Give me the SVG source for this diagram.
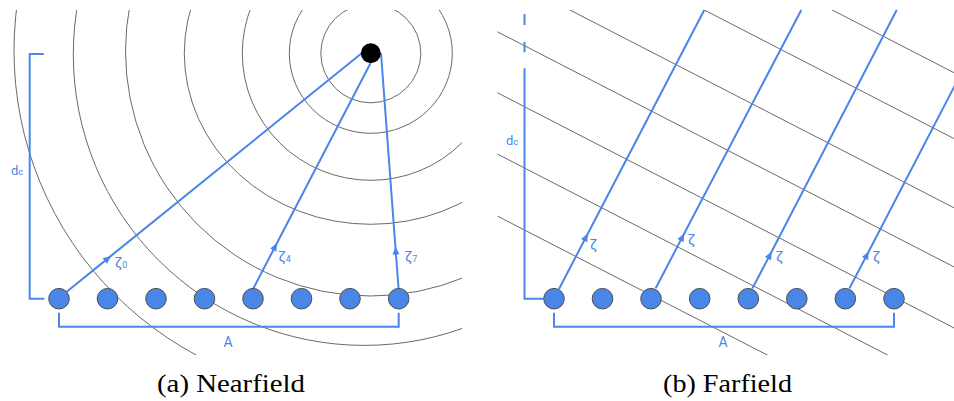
<svg xmlns="http://www.w3.org/2000/svg" width="954" height="401" viewBox="0 0 954 401">
<defs>
<style>
.wave{fill:none;stroke:#6a6a6a;stroke-width:1}
.ray{fill:none;stroke:#4a86e8;stroke-width:2;marker-mid:url(#ah)}
.br{fill:none;stroke:#4a86e8;stroke-width:2}
.el{fill:#4a86e8;stroke:#4d4d4d;stroke-width:1}
.lbl{font-family:Roboto,"Liberation Sans",sans-serif;fill:#4a86e8}
.zeta{font-size:15px}
.sub{font-size:9px}
.cap{font-family:"Liberation Serif",serif;font-size:25px;fill:#000}
</style>
<marker id="ah" markerWidth="10" markerHeight="8" viewBox="-9 -4 10 8" refX="0" refY="0" orient="auto" markerUnits="userSpaceOnUse">
<path d="M0,0 L-8,-3.5 L-8,3.5 Z" fill="#4a86e8"/>
</marker>
<clipPath id="cl"><rect x="0" y="10" width="462" height="345"/></clipPath>
<clipPath id="cr"><rect x="497.3" y="10" width="457" height="345"/></clipPath>
</defs>
<rect width="954" height="401" fill="#fff"/>

<!-- Nearfield wavefronts -->
<g id="nearfield-waves" class="wave" clip-path="url(#cl)">
<ellipse cx="370.8" cy="53.3" rx="50" ry="49.5"/>
<ellipse cx="370.8" cy="53.3" rx="81.5" ry="80"/>
<ellipse cx="370.8" cy="53.3" rx="128.5" ry="127"/>
<ellipse cx="370.8" cy="53.3" rx="186.5" ry="171"/>
<circle cx="370.5" cy="51" r="245"/>
<circle cx="364.3" cy="54.4" r="291"/>
<circle cx="359.5" cy="50.6" r="345.5"/>
</g>

<!-- Farfield wavefronts -->
<g id="farfield-waves" class="wave" clip-path="url(#cr)">
<line x1="497.3" y1="-162.5" x2="1000" y2="96.4"/>
<line x1="497.3" y1="-96.6" x2="1000" y2="162.3"/>
<line x1="497.3" y1="-27.4" x2="1000" y2="231.5"/>
<line x1="497.3" y1="31.7" x2="1000" y2="290.6"/>
<line x1="497.3" y1="92.7" x2="1000" y2="351.6"/>
<line x1="497.3" y1="154" x2="1000" y2="412.9"/>
<line x1="497.3" y1="216" x2="1000" y2="474.9"/>
</g>

<!-- connectors -->
<g id="connectors">
<polyline class="ray" points="66.7,291.7 111,255.9 361.7,53.3"/>
<polyline class="ray" points="253.3,288.5 277,243 370.5,63.3"/>
<polyline class="ray" points="398.6,289 395.4,246.5 381,53.3"/>
<polyline class="ray" points="559,289 587.9,233.5 704.3,10"/>
<polyline class="ray" points="655.7,288.3 684.2,233.5 801.3,10"/>
<polyline class="ray" points="752.5,288.3 771.7,251.5 896.7,10"/>
<polyline class="ray" points="849.5,288.3 868.7,251.5 994,10"/>
</g>

<!-- dimension brackets -->
<g id="dimensions" class="br">
<path d="M43.7,54 H29.7 V298.7 H44.3"/>
<path d="M59,312.7 V326.7 H398.7 V312.7"/>
<path d="M524.5,14 V25 M524.5,41.7 V52.3 M524.5,68.3 V298.7 H543.3"/>
<path d="M554,312.7 V326.7 H894 V312.7"/>
</g>

<!-- nodes -->
<g id="source"><circle cx="370.8" cy="53.3" r="10" fill="#000"/></g>
<g id="n-a0"><circle class="el" cx="59" cy="298.7" r="10.3"/></g>
<g id="n-a1"><circle class="el" cx="107.5" cy="298.7" r="10.3"/></g>
<g id="n-a2"><circle class="el" cx="156" cy="298.7" r="10.3"/></g>
<g id="n-a3"><circle class="el" cx="204.5" cy="298.7" r="10.3"/></g>
<g id="n-a4"><circle class="el" cx="253" cy="298.7" r="10.3"/></g>
<g id="n-a5"><circle class="el" cx="301.5" cy="298.7" r="10.3"/></g>
<g id="n-a6"><circle class="el" cx="350" cy="298.7" r="10.3"/></g>
<g id="n-a7"><circle class="el" cx="398.7" cy="298.7" r="10.3"/></g>
<g id="n-b0"><circle class="el" cx="554" cy="298.7" r="10.3"/></g>
<g id="n-b1"><circle class="el" cx="602.5" cy="298.7" r="10.3"/></g>
<g id="n-b2"><circle class="el" cx="651" cy="298.7" r="10.3"/></g>
<g id="n-b3"><circle class="el" cx="699.7" cy="298.7" r="10.3"/></g>
<g id="n-b4"><circle class="el" cx="748.3" cy="298.7" r="10.3"/></g>
<g id="n-b5"><circle class="el" cx="796.8" cy="298.7" r="10.3"/></g>
<g id="n-b6"><circle class="el" cx="845.3" cy="298.7" r="10.3"/></g>
<g id="n-b7"><circle class="el" cx="894" cy="298.7" r="10.3"/></g>

<!-- labels -->
<g id="labels" class="lbl">
<text x="11" y="175"><tspan font-size="13">d</tspan><tspan font-size="9.5">c</tspan></text>
<text x="506" y="145"><tspan font-size="13">d</tspan><tspan font-size="9.5">c</tspan></text>
<text x="228" y="346.7" font-size="14" text-anchor="middle">A</text>
<text x="723" y="347" font-size="14" text-anchor="middle">A</text>
<text x="114.5" y="268"><tspan class="zeta">ζ</tspan><tspan class="sub">0</tspan></text>
<text x="278" y="262"><tspan class="zeta">ζ</tspan><tspan class="sub">4</tspan></text>
<text x="404.5" y="262"><tspan class="zeta">ζ</tspan><tspan class="sub">7</tspan></text>
<text class="zeta" x="589.5" y="250">ζ</text>
<text class="zeta" x="687.5" y="245">ζ</text>
<text class="zeta" x="775.5" y="262">ζ</text>
<text class="zeta" x="872.5" y="262">ζ</text>
</g>

<g id="captions">
<text class="cap" x="231" y="392" text-anchor="middle" textLength="148" lengthAdjust="spacingAndGlyphs">(a) Nearfield</text>
<text class="cap" x="727.5" y="392" text-anchor="middle" textLength="129" lengthAdjust="spacingAndGlyphs">(b) Farfield</text>
</g>
</svg>
